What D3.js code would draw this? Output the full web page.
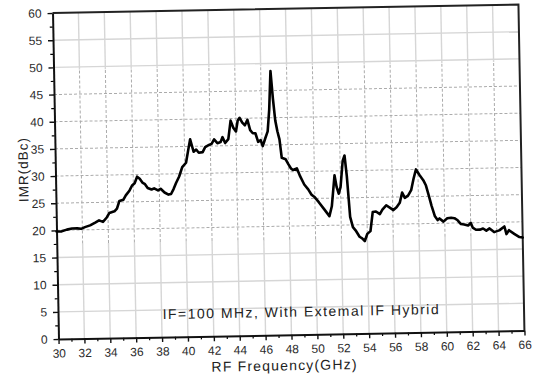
<!DOCTYPE html>
<html>
<head>
<meta charset="utf-8">
<script src="https://cdn.jsdelivr.net/npm/d3@7"></script>
<style>
  html, body { margin: 0; padding: 0; background: #fff; }
  svg { display: block; }
  text { font-family: "Liberation Sans", Arial, sans-serif; }
</style>
</head>
<body>
<div id="chart"></div>
<script>
// RF frequency (GHz) and measured image rejection (dBc)
const freqGHz = [
  30.0, 30.4, 30.8, 31.2, 31.6, 31.9, 32.2, 32.6, 33.0, 33.3, 33.6, 33.9,
  34.1, 34.5, 34.7, 34.9, 35.2, 35.4, 35.7, 35.9, 36.1, 36.3, 36.5, 36.7,
  36.9, 37.1, 37.4, 37.6, 37.9, 38.1, 38.4, 38.7, 38.9, 39.1, 39.3, 39.55,
  39.8, 40.1, 40.3, 40.45, 40.7, 40.9, 41.1, 41.4, 41.6, 41.9, 42.1, 42.3,
  42.55, 42.8, 42.95, 43.15, 43.4, 43.6, 43.8, 44.0, 44.15, 44.3, 44.5, 44.7,
  44.9, 45.1, 45.3, 45.5, 45.7, 45.9, 46.05, 46.25, 46.45, 46.6, 46.75, 46.9,
  47.05, 47.2, 47.35, 47.5, 47.8, 48.0, 48.2, 48.35, 48.65, 48.9, 49.2, 49.5,
  49.75, 50.0, 50.3, 50.7, 51.1, 51.3, 51.55, 51.7, 51.85, 52.0, 52.2, 52.35,
  52.5, 52.7, 52.9, 53.1, 53.4, 53.6, 53.8, 54.0, 54.25, 54.45, 54.7, 55.0,
  55.2, 55.5, 55.8, 56.05, 56.3, 56.55, 56.75, 56.95, 57.2, 57.45, 57.65, 57.85,
  58.1, 58.4, 58.6, 58.8, 59.0, 59.25, 59.45, 59.6, 59.9, 60.2, 60.5, 60.75,
  61.0, 61.25, 61.5, 61.8, 62.0, 62.15, 62.4, 62.7, 62.95, 63.2, 63.45, 63.8,
  64.2, 64.6, 64.75, 64.95, 65.35, 65.75, 66.0
];
const imrDBc = [
  19.8, 19.8, 20.1, 20.3, 20.3, 20.2, 20.5, 20.8, 21.3, 21.7, 21.4, 22.2,
  23.0, 23.3, 23.8, 25.2, 25.4, 26.2, 27.1, 28.0, 28.4, 29.6, 29.2, 28.5,
  28.2, 27.5, 27.2, 27.4, 27.0, 27.3, 26.6, 26.2, 26.3, 27.2, 28.3, 29.5,
  31.2, 32.0, 34.5, 36.3, 34.0, 34.4, 33.8, 33.9, 34.8, 35.2, 35.4, 36.2,
  35.5, 35.7, 36.6, 35.5, 36.2, 39.6, 38.3, 37.6, 39.6, 40.1, 39.2, 38.7,
  39.7, 37.8, 37.2, 37.2, 35.6, 35.9, 34.8, 36.2, 37.5, 41.5, 48.6, 43.5,
  39.5, 37.5, 36.0, 32.6, 32.3, 31.4, 30.6, 30.3, 30.6, 29.1, 27.6, 26.7,
  25.7, 25.2, 24.3, 23.0, 21.7, 23.5, 29.2, 27.0, 25.8, 27.0, 31.8, 32.8,
  29.0, 21.5, 19.6, 19.0, 17.8, 17.5, 17.0, 18.3, 18.8, 22.3, 22.4, 21.9,
  22.7, 23.5, 23.0, 22.6, 23.1, 23.9, 25.8, 24.8, 25.2, 26.2, 28.3, 30.0,
  29.0, 28.0, 27.0, 25.2, 23.3, 21.3, 20.6, 20.9, 20.3, 20.9, 21.0, 20.9,
  20.5, 19.8, 19.7, 19.5, 20.0, 19.1, 18.7, 18.7, 18.9, 18.5, 18.9, 18.2,
  18.5, 19.2, 17.8, 18.5, 17.8, 17.2, 17.1
];

// Axis ticks and labels
const xTickValues = [30, 32, 34, 36, 38, 40, 42, 44, 46, 48, 50, 52, 54, 56, 58, 60, 62, 64, 66];
const xTickLabels = ["30", "32", "34", "36", "38", "40", "42", "44", "46", "48", "50", "52", "54", "56", "58", "60", "62", "64", "66"];
const yTickValues = [0, 5, 10, 15, 20, 25, 30, 35, 40, 45, 50, 55, 60];
const yTickLabels = ["0", "5", "10", "15", "20", "25", "30", "35", "40", "45", "50", "55", "60"];

const xTitle = "RF Frequency(GHz)";
const yTitle = "IMR(dBc)";
const note = "IF=100 MHz, With Extemal IF Hybrid";

const width = 534, height = 379;
const plotW = 466, plotH = 326;
const originX = 58.5, originY = 339;
const tilt = -1.05;

const svg = d3.select("#chart").append("svg")
  .attr("width", width).attr("height", height);

// The whole figure sits on a slight tilt
const root = svg.append("g")
  .attr("transform", `translate(${originX},${originY}) rotate(${tilt}) translate(0,${-plotH})`);

const x = d3.scaleLinear().domain([30, 66]).range([0, plotW]);
const y = d3.scaleLinear().domain([0, 60]).range([plotH, 0]);

// Grid: dashed in the middle band, solid and paler outside it
const bandLo = 17.5, bandHi = 49.5;
const grid = root.append("g");
const solidGrid = { stroke: "#d6d6d6", width: 1.4, dash: null };
const dashGrid = { stroke: "#ababab", width: 1, dash: "3,2" };
function gridLine(x1, y1, x2, y2, st) {
  grid.append("line")
    .attr("x1", x1).attr("y1", y1).attr("x2", x2).attr("y2", y2)
    .attr("stroke", st.stroke).attr("stroke-width", st.width)
    .attr("stroke-dasharray", st.dash);
}
yTickValues.filter(v => v > 0 && v < 60).forEach(v => {
  const st = (v > bandLo && v < bandHi) ? dashGrid : solidGrid;
  gridLine(0, y(v), plotW, y(v), st);
});
xTickValues.filter(v => v > 30 && v < 66).forEach(v => {
  gridLine(x(v), y(0), x(v), y(bandLo), solidGrid);
  gridLine(x(v), y(bandLo), x(v), y(bandHi), dashGrid);
  gridLine(x(v), y(bandHi), x(v), y(60), solidGrid);
});

// Minor ticks
const xMinor = d3.range(31, 66, 2);
const yMinor = d3.range(2.5, 60, 5);
root.append("g")
  .attr("transform", `translate(0,${plotH})`)
  .call(d3.axisBottom(x).tickValues(xMinor).tickSize(3).tickFormat(""))
  .call(g => g.select(".domain").remove())
  .selectAll("line").attr("stroke", "#000").attr("stroke-width", 1.2);
root.append("g")
  .call(d3.axisLeft(y).tickValues(yMinor).tickSize(3).tickFormat(""))
  .call(g => g.select(".domain").remove())
  .selectAll("line").attr("stroke", "#000").attr("stroke-width", 1.2);

// Major axes
const xAxis = root.append("g")
  .attr("transform", `translate(0,${plotH})`)
  .call(d3.axisBottom(x).tickValues(xTickValues).tickSize(5).tickPadding(5)
    .tickFormat((d, i) => xTickLabels[i]).tickSizeOuter(0));
const yAxis = root.append("g")
  .call(d3.axisLeft(y).tickValues(yTickValues).tickSize(5).tickPadding(6)
    .tickFormat((d, i) => yTickLabels[i]).tickSizeOuter(0));
[xAxis, yAxis].forEach(ax => {
  ax.select(".domain").attr("stroke", "#111").attr("stroke-width", 2);
  ax.selectAll(".tick line").attr("stroke", "#111").attr("stroke-width", 1.4);
  ax.selectAll(".tick text")
    .attr("font-size", 12)
    .attr("font-family", "Liberation Sans, Arial, sans-serif")
    .attr("fill", "#2a2a2a");
});

// Top and right frame edges
root.append("path")
  .attr("d", `M0,0H${plotW}V${plotH}`)
  .attr("fill", "none").attr("stroke", "#222").attr("stroke-width", 2);

// Measured curve
const line = d3.line()
  .x((d, i) => x(freqGHz[i]))
  .y((d, i) => y(imrDBc[i]));
root.append("path")
  .datum(imrDBc)
  .attr("d", line)
  .attr("fill", "none")
  .attr("stroke", "#000")
  .attr("stroke-width", 2.6)
  .attr("stroke-linejoin", "round")
  .attr("stroke-linecap", "round");

// Annotation inside the plot
root.append("text")
  .attr("x", 104.6).attr("y", plotH - 18)
  .attr("font-size", 14)
  .attr("fill", "#222")
  .attr("textLength", 276).attr("lengthAdjust", "spacing")
  .text(note);

// Axis titles
root.append("text")
  .attr("x", 225).attr("y", plotH + 35.5)
  .attr("text-anchor", "middle")
  .attr("font-size", 14)
  .attr("fill", "#222")
  .attr("textLength", 145).attr("lengthAdjust", "spacing")
  .text(xTitle);

root.append("text")
  .attr("transform", `translate(-27.4,156.4) rotate(-90)`)
  .attr("text-anchor", "middle")
  .attr("font-size", 13.5)
  .attr("fill", "#222")
  .attr("textLength", 64).attr("lengthAdjust", "spacing")
  .text(yTitle);
</script>
</body>
</html>
